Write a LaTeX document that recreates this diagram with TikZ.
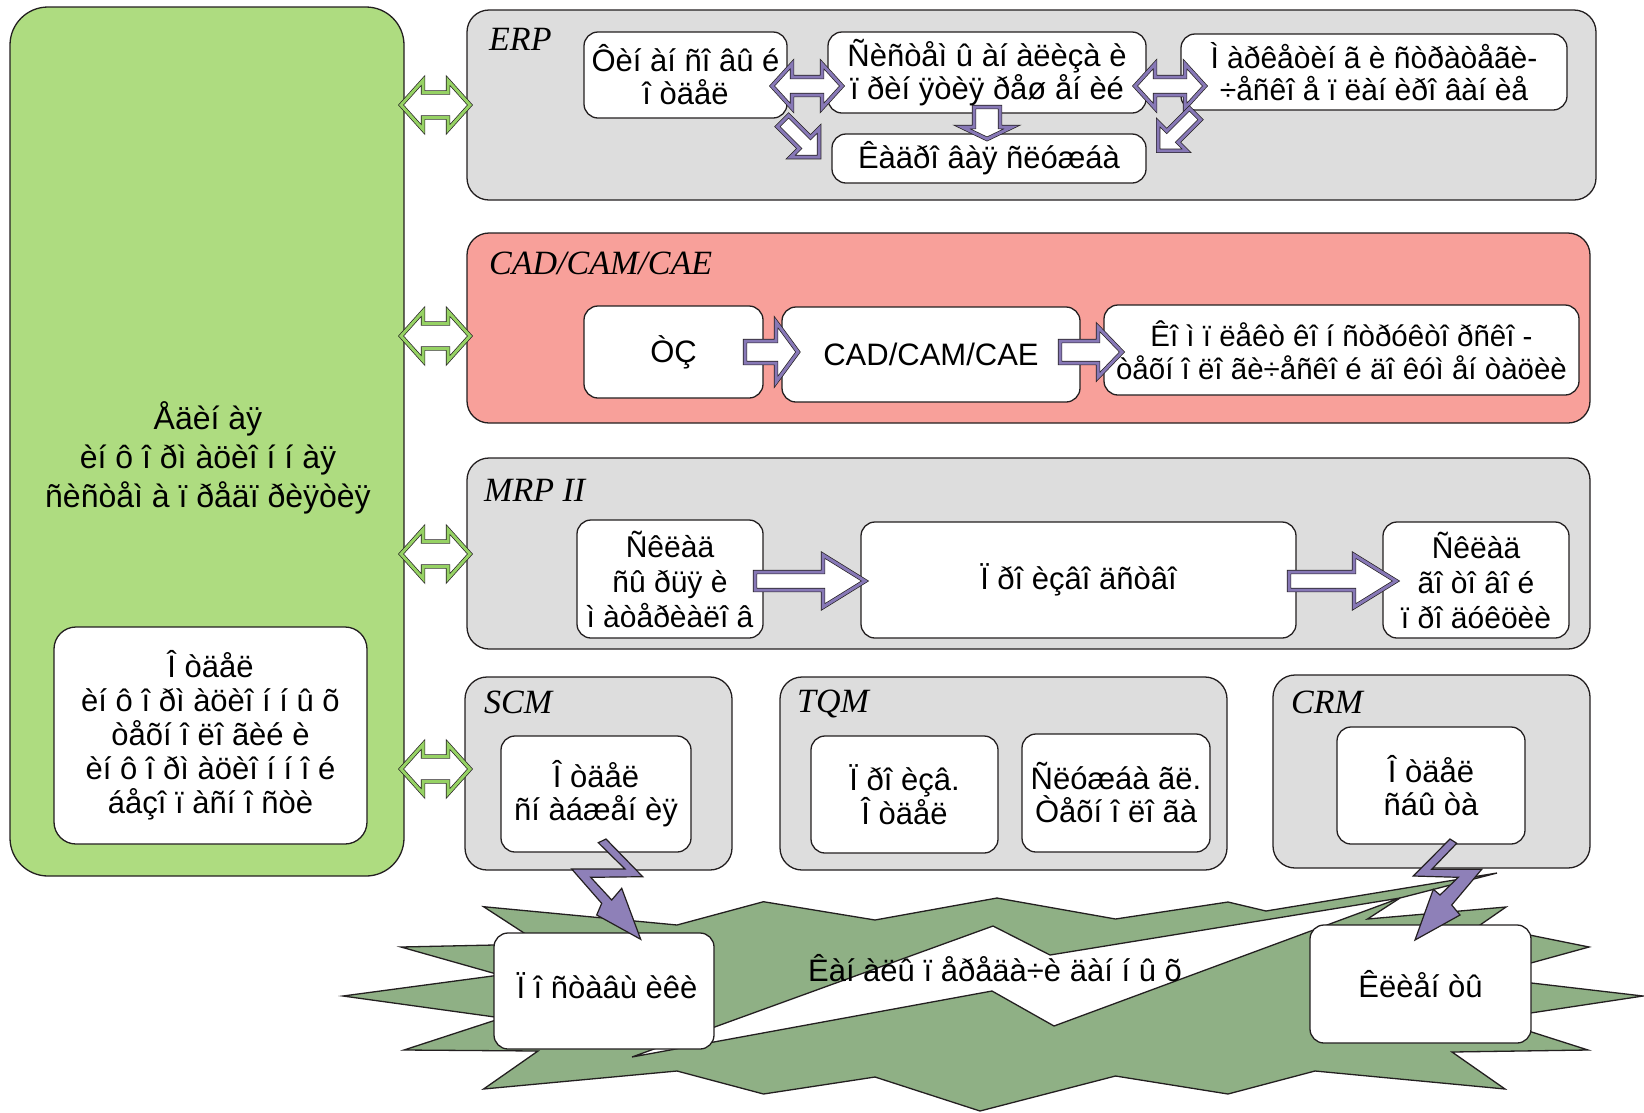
\documentclass[tikz,border=0pt]{standalone}
\usepackage{fontspec}
\setmainfont{Liberation Sans}
\newfontfamily\headfont{Liberation Serif}
\definecolor{gfill}{RGB}{174,220,128}
\definecolor{grayf}{RGB}{221,221,221}
\definecolor{pinkf}{RGB}{248,160,154}
\definecolor{burst}{RGB}{143,176,133}
\definecolor{boltc}{RGB}{142,128,184}
\definecolor{pband}{RGB}{135,120,182}
\definecolor{gband}{RGB}{150,210,100}
\definecolor{edge}{RGB}{35,31,32}
\newcommand\sarr[8]{\begin{scope}[shift={(#2,#3)},rotate=#4]
\draw[#1] (0,#6) -- ({#5-#8},#6) -- ({#5-#8},#7) -- (#5,0) -- ({#5-#8},-#7) -- ({#5-#8},-#6) -- (0,-#6) -- cycle;
\end{scope}}
\newcommand\darr[8]{\begin{scope}[shift={(#2,#3)},rotate=#4]
\draw[#1] (-#5,0) -- ({-#5+#8},#7) -- ({-#5+#8},#6) -- ({#5-#8},#6) -- ({#5-#8},#7) -- (#5,0) -- ({#5-#8},-#7) -- ({#5-#8},-#6) -- ({-#5+#8},-#6) -- ({-#5+#8},-#7) -- cycle;
\end{scope}}
\tikzset{
  cont/.style={draw=edge, line width=1.3, rounded corners=22, inner sep=0},
  ibox/.style={draw=edge, line width=1.3, fill=white, rounded corners=14, inner sep=0, align=center, text=black, font=\fontsize{31}{33}\selectfont},
  txt/.style={inner sep=0, align=center, text=black, font=\fontsize{31}{33}\selectfont},
  headlbl/.style={inner sep=0, anchor=west, text=black, font=\headfont\itshape\fontsize{34}{36}\selectfont},
  pblk/.style={fill=white, draw=edge, double=pband, double distance=3, line width=0.7, line join=miter},
  gblk/.style={fill=white, draw=edge, double=gband, double distance=3, line width=0.7, line join=miter},
  boltst/.style={fill=boltc, draw=edge, line width=1.2, line join=miter},
  burstst/.style={fill=burst, draw=edge, line width=1.3, line join=miter},
}
\begin{document}
\begin{tikzpicture}[x=1pt,y=-1pt]
\useasboundingbox (0,0) rectangle (1644,1112);

% left green system
\node[cont, fill=gfill, rounded corners=38, minimum width=394, minimum height=869] (eis) at (207,441.5) {};
\node[txt, font=\fontsize{32}{39}\selectfont] (eist) at (208,458) {Åäèí àÿ\\èí ô î ðì àöèî í í àÿ\\ñèñòåì à ï ðåäï ðèÿòèÿ};
\node[ibox, rounded corners=22, minimum width=313, minimum height=217, font=\fontsize{31}{34}\selectfont] (oit) at (210.5,735.5) {Î òäåë\\èí ô î ðì àöèî í í û õ\\òåõí î ëî ãèé è\\èí ô î ðì àöèî í í î é\\áåçî ï àñí î ñòè};

% ERP
\node[cont, fill=grayf, minimum width=1129, minimum height=190] (erp) at (1031.5,105) {};
\node[headlbl] (erpl) at (489,39) {ERP};
\node[ibox, minimum width=203, minimum height=86] (fin) at (685.5,75) {Ôèí àí ñî âû é\\î òäåë};
\node[ibox, minimum width=318, minimum height=81] (sys) at (987,72.5) {Ñèñòåì û àí àëèçà è\\ï ðèí ÿòèÿ ðåø åí èé};
\node[ibox, minimum width=386, minimum height=76, font=\fontsize{30}{32}\selectfont] (mkt) at (1374,72) {Ì àðêåòèí ã è ñòðàòåãè-\\÷åñêî å ï ëàí èðî âàí èå};
\node[ibox, minimum width=314, minimum height=49] (kadr) at (989,158.5) {Êàäðî âàÿ ñëóæáà};

% CAD/CAM/CAE
\node[cont, fill=pinkf, minimum width=1123, minimum height=190] (cad) at (1028.5,328) {};
\node[headlbl] (cadl) at (489,263) {CAD/CAM/CAE};
\node[ibox, minimum width=179, minimum height=92] (tz) at (673.5,352) {ÒÇ};
\node[ibox, minimum width=298, minimum height=95] (cadn) at (931,354.5) {CAD/CAM/CAE};
\node[ibox, minimum width=475, minimum height=90, font=\fontsize{29.5}{33}\selectfont] (kompl) at (1341.5,350) {Êî ì ï ëåêò êî í ñòðóêòî ðñêî -\\òåõí î ëî ãè÷åñêî é äî êóì åí òàöèè};

% MRP II
\node[cont, fill=grayf, minimum width=1123, minimum height=191] (mrp) at (1028.5,553.5) {};
\node[headlbl] (mrpl) at (484,490) {MRP II};
\node[ibox, minimum width=186, minimum height=118, font=\fontsize{30}{35}\selectfont] (skl1) at (670,579) {Ñêëàä\\ñû ðüÿ è\\ì àòåðèàëî â};
\node[ibox, minimum width=435, minimum height=116] (proiz) at (1078.5,580) {Ï ðî èçâî äñòâî};
\node[ibox, minimum width=186, minimum height=116, font=\fontsize{30}{35}\selectfont] (skl2) at (1476,580) {Ñêëàä\\ãî òî âî é\\ï ðî äóêöèè};

% SCM / TQM / CRM
\node[cont, fill=grayf, minimum width=267, minimum height=193] (scm) at (598.5,773.5) {};
\node[headlbl] (scml) at (484,702) {SCM};
\node[ibox, minimum width=190, minimum height=116] (snab) at (596,794) {Î òäåë\\ñí àáæåí èÿ};
\node[cont, fill=grayf, minimum width=447, minimum height=193] (tqm) at (1003.5,773.5) {};
\node[headlbl] (tqml) at (797,704) {TQM};
\node[ibox, minimum width=187, minimum height=117] (pro) at (904.5,794.5) {Ï ðî èçâ.\\Î òäåë};
\node[ibox, minimum width=188, minimum height=118] (tech) at (1116,793) {Ñëóæáà ãë.\\Òåõí î ëî ãà};
\node[cont, fill=grayf, minimum width=317, minimum height=193] (crm) at (1431.5,771.5) {};
\node[headlbl] (crml) at (1291,702) {CRM};
\node[ibox, minimum width=188, minimum height=117] (sbyt) at (1431,785.5) {Î òäåë\\ñáû òà};

% channels (starburst)
\draw[burstst] (483.6,906.7) -- (677,925) -- (763.5,901.7) -- (875,920) -- (997,898) -- (1115.5,919) -- (1228,902) -- (1266,911) -- (1497,873) -- (1400,898) -- (1367.5,919) -- (1506,907) -- (1480,925) -- (1589,947) -- (1480,977) -- (1643,996) -- (1491,1019) -- (1588,1050) -- (1452,1052) -- (1505,1089) -- (1315,1071) -- (1228,1094) -- (1115.5,1076) -- (980,1111) -- (875,1077) -- (763.5,1094) -- (677,1071) -- (483.6,1089) -- (538,1051) -- (404,1050) -- (502,1018) -- (343,996) -- (500,975) -- (401,947) -- (541,944) -- cycle;
\draw[fill=white, draw=edge, line width=1.3, line join=miter] (632,1057) -- (993,926) -- (1050,955) -- (1400,898) -- (1054,1026) -- (992,991) -- cycle;
\node[txt] (chan) at (995,968) {Êàí àëû ï åðåäà÷è äàí í û õ};
\node[ibox, minimum width=220, minimum height=116] (post) at (604,991) {};
\node[txt] (postt) at (607,986) {Ï î ñòàâù èêè};
\node[ibox, minimum width=221, minimum height=118] (kli) at (1420.5,984) {Êëèåí òû};

% green double arrows
\darr{gblk}{435.5}{105}{0}{34.5}{12.5}{24.5}{22}
\darr{gblk}{435.5}{336}{0}{34.5}{12.5}{24.5}{22}
\darr{gblk}{435.5}{554}{0}{34.5}{12.5}{24.5}{22}
\darr{gblk}{435.5}{769}{0}{34.5}{12.5}{24.5}{22}

% ERP arrows
\darr{pblk}{807}{86}{0}{35}{9}{22}{20}
\darr{pblk}{1170}{86}{0}{35}{9}{22}{20}
\sarr{pblk}{987}{107}{-90}{32}{13}{25}{12}
\sarr{pblk}{783}{121}{-45}{51}{8}{20}{20}
\sarr{pblk}{1195}{114}{-135}{52}{8}{20}{20}

% CAD arrows
\sarr{pblk}{745}{352}{0}{53}{11}{30}{22}
\sarr{pblk}{1060}{352}{0}{62}{11}{25}{24}

% MRP arrows
\sarr{pblk}{755}{581}{0}{110}{9}{26}{42}
\sarr{pblk}{1289}{581}{0}{107}{9}{26}{42}

% lightning arrows
\draw[boltst] (598.3,842.7) -- (606,839) -- (642.7,876.7) -- (590.7,877.3) -- (611.7,900) -- (621.7,888.3) -- (640.7,939.3) -- (596.7,915) -- (601.7,903.3) -- (571.7,869) -- (625,869) -- cycle;
\draw[boltst] (1450,839) -- (1456.7,843.3) -- (1431.7,869.3) -- (1481.7,869.3) -- (1451.7,905) -- (1460,915) -- (1415,940) -- (1433.3,889.3) -- (1440,895) -- (1458.3,877.3) -- (1413.3,876) -- cycle;
\end{tikzpicture}
\end{document}
